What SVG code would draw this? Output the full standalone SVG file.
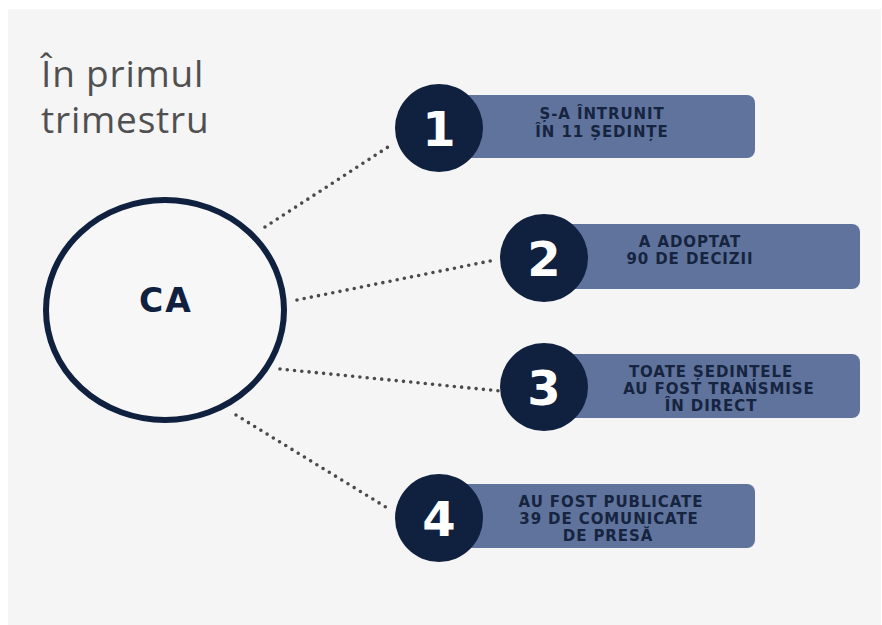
<svg xmlns="http://www.w3.org/2000/svg" width="882" height="625" viewBox="0 0 882 625">
<defs>
<style>
.bg{fill:#f5f5f5}
.title{font-family:"Open Sans","Liberation Sans",sans-serif;font-size:37px;letter-spacing:0.8px;fill:#505050}
.conn{fill:none;stroke:#4a4a4a;stroke-width:3.6;stroke-linecap:round;stroke-dasharray:0 7.3}
.num{fill:#10203f}
.box{fill:#5f739c}
.numtxt{font-family:"DejaVu Sans","Liberation Sans",sans-serif;font-weight:bold;font-size:48px;fill:#ffffff;text-anchor:middle}
.lbl{font-family:"DejaVu Sans","Liberation Sans",sans-serif;font-weight:bold;font-size:15px;letter-spacing:0.9px;fill:#16243f;text-anchor:middle}
.ca{font-family:"DejaVu Sans","Liberation Sans",sans-serif;font-weight:bold;font-size:33px;letter-spacing:2px;fill:#10203f;text-anchor:middle}
</style>
</defs>
<rect class="bg" x="8" y="9" width="873" height="616"/>
<text class="title" x="41" y="87">În primul</text>
<text class="title" x="41" y="133">trimestru</text>
<g id="connectors">
<line class="conn" x1="265" y1="227" x2="388" y2="147"/>
<line class="conn" x1="297" y1="300" x2="495" y2="260"/>
<line class="conn" x1="280" y1="369" x2="500" y2="391"/>
<line class="conn" x1="236" y1="415" x2="389" y2="509"/>
</g>
<g id="ca">
<ellipse cx="165" cy="310" rx="119" ry="110" fill="#f7f7f7" stroke="#10203f" stroke-width="6"/>
<text class="ca" x="166" y="312">CA</text>
</g>
<g id="item1">
<rect class="box" x="452" y="95" width="303" height="63" rx="8"/>
<circle class="num" cx="439" cy="128" r="44"/>
<text class="numtxt" x="439" y="146">1</text>
<text class="lbl" x="602" y="119">Ș-A ÎNTRUNIT</text>
<text class="lbl" x="602" y="137">ÎN 11 ȘEDINȚE</text>
</g>
<g id="item2">
<rect class="box" x="557" y="224" width="303" height="65" rx="8"/>
<circle class="num" cx="544" cy="258" r="44"/>
<text class="numtxt" x="544" y="276">2</text>
<text class="lbl" x="690" y="247">A ADOPTAT</text>
<text class="lbl" x="690" y="264">90 DE DECIZII</text>
</g>
<g id="item3">
<rect class="box" x="557" y="354" width="303" height="64" rx="8"/>
<circle class="num" cx="544" cy="387" r="44"/>
<text class="numtxt" x="544" y="405">3</text>
<text class="lbl" x="711" y="377">TOATE ȘEDINȚELE</text>
<text class="lbl" x="719" y="394">AU FOST TRANSMISE</text>
<text class="lbl" x="711" y="411">ÎN DIRECT</text>
</g>
<g id="item4">
<rect class="box" x="452" y="484" width="303" height="64" rx="8"/>
<circle class="num" cx="439" cy="518" r="44"/>
<text class="numtxt" x="439" y="536">4</text>
<text class="lbl" x="611" y="507">AU FOST PUBLICATE</text>
<text class="lbl" x="609" y="524">39 DE COMUNICATE</text>
<text class="lbl" x="608" y="541">DE PRESĂ</text>
</g>
</svg>
